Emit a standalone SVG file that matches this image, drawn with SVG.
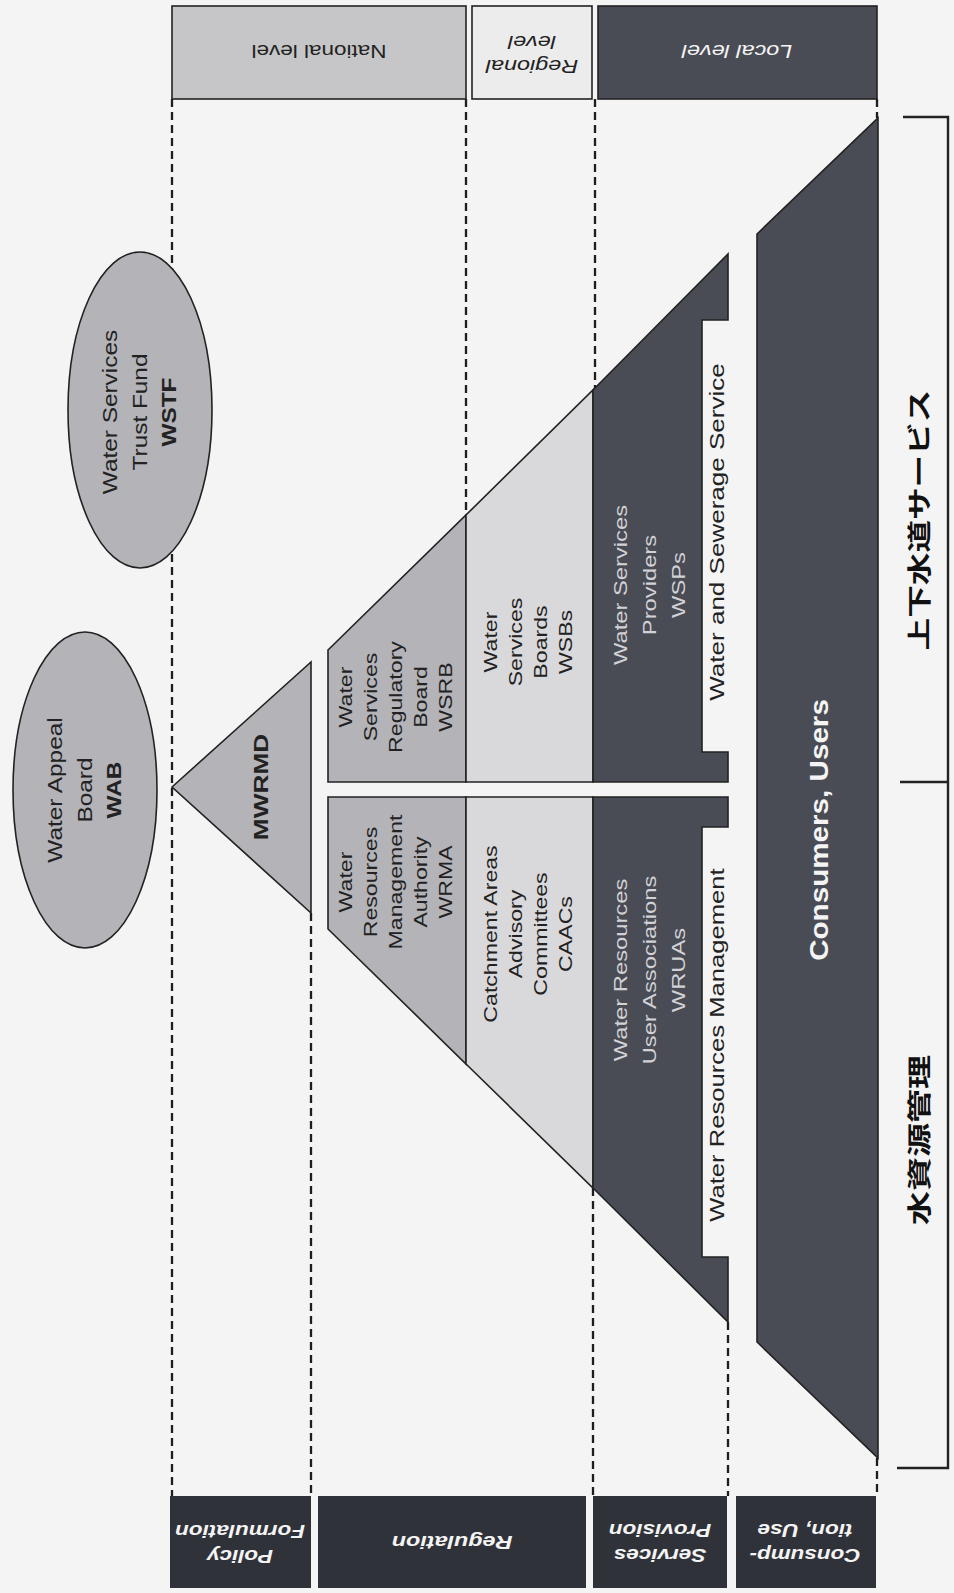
<svg xmlns="http://www.w3.org/2000/svg" width="954" height="1593" viewBox="0 0 954 1593">
<style>
.bg{fill:#f4f4f4}
.shp{stroke:#222;stroke-width:1.6;stroke-linejoin:miter}
.mid{fill:#b3b3b8}
.lite{fill:#d9d9db}
.dark{fill:#4a4c55}
.darker{fill:#303239}
.nat{fill:#c6c6c8}
.reg{fill:#ececec}
.dash{stroke:#1e1e1e;stroke-width:2.3;stroke-dasharray:8 5;fill:none}
.brk{stroke:#222;stroke-width:2.4;fill:none}
.t{font-family:"Liberation Sans",Arial,sans-serif;fill:#222;text-anchor:middle}
.b{font-weight:bold}
.i{font-style:italic}
.w{fill:#f4f4f4}
.lt{fill:#d2d2d6}
.jp{font-family:"Noto Sans CJK JP","Noto Sans CJK SC",sans-serif;font-weight:bold;fill:#111;text-anchor:middle}
</style>
<rect class="bg" x="0" y="0" width="954" height="1593"/>

<g id="connectors">
<line class="dash" x1="172" y1="99" x2="172" y2="1496"/>
<line class="dash" x1="466" y1="99" x2="466" y2="516"/>
<line class="dash" x1="595" y1="99" x2="595" y2="389"/>
<line class="dash" x1="877" y1="99" x2="877" y2="118"/>
<line class="dash" x1="311" y1="913" x2="311" y2="1496"/>
<line class="dash" x1="593" y1="1188" x2="593" y2="1496"/>
<line class="dash" x1="728" y1="1322" x2="728" y2="1496"/>
<line class="dash" x1="877" y1="1458" x2="877" y2="1496"/>
<path class="brk" d="M903,117 H948 V1468 H897 M900,782 H948"/>
</g>

<g id="hdr-national">
<rect class="shp nat" x="172" y="6" width="294" height="93"/>
<g transform="translate(319,45) rotate(180) scale(1.25,1)" class="t" font-size="18"><text x="0" y="0">National level</text></g>
</g>
<g id="hdr-regional">
<rect class="shp reg" x="472" y="6" width="120" height="93"/>
<g transform="translate(532,60) rotate(180) scale(1.3,1)" class="t i" font-size="18"><text x="0" y="0">Regional</text><text x="0" y="24">level</text></g>
</g>
<g id="hdr-local">
<rect class="shp dark" x="598" y="6" width="279" height="93"/>
<g transform="translate(737,45) rotate(180) scale(1.3,1)" class="t i w" font-size="18"><text x="0" y="0">Local level</text></g>
</g>

<g id="hdr-policy">
<rect class="darker" x="170" y="1496" width="141" height="92"/>
<g transform="translate(240,1550) rotate(180) scale(1.25,1)" class="t b i w" font-size="18"><text x="0" y="0">Policy</text><text x="0" y="25">Formulation</text></g>
</g>
<g id="hdr-regulation">
<rect class="darker" x="318" y="1496" width="268" height="92"/>
<g transform="translate(452,1536) rotate(180) scale(1.3,1)" class="t b i w" font-size="18"><text x="0" y="0">Regulation</text></g>
</g>
<g id="hdr-services">
<rect class="darker" x="593" y="1496" width="134" height="92"/>
<g transform="translate(660,1549) rotate(180) scale(1.25,1)" class="t b i w" font-size="18"><text x="0" y="0">Services</text><text x="0" y="25">Provision</text></g>
</g>
<g id="hdr-consumption">
<rect class="darker" x="736" y="1496" width="140" height="92"/>
<g transform="translate(805,1549) rotate(180) scale(1.25,1)" class="t b i w" font-size="18"><text x="0" y="0">Consump-</text><text x="0" y="25">tion, Use</text></g>
</g>

<g id="wstf">
<ellipse class="shp mid" cx="140" cy="410" rx="72" ry="158"/>
<g transform="translate(0,412) rotate(-90) scale(1.25,1)" class="t" font-size="19.5">
<text x="0" y="117.5">Water Services</text><text x="0" y="147">Trust Fund</text><text x="0" y="176.5" class="b">WSTF</text></g>
</g>
<g id="wab">
<ellipse class="shp mid" cx="85" cy="790" rx="72" ry="158"/>
<g transform="translate(0,790) rotate(-90) scale(1.25,1)" class="t" font-size="19.5">
<text x="0" y="62.5">Water Appeal</text><text x="0" y="92">Board</text><text x="0" y="121.5" class="b">WAB</text></g>
</g>

<g id="mwrmd">
<polygon class="shp mid" points="172,787 311,662 311,913"/>
<g transform="translate(0,787) rotate(-90) scale(1.25,1)" class="t b" font-size="21"><text x="0" y="268">MWRMD</text></g>
</g>

<g id="wsrb">
<polygon class="shp mid" points="328,650 466,515 466,782 328,782"/>
<g transform="translate(0,697) rotate(-90) scale(1.25,1)" class="t" font-size="18.5">
<text x="0" y="352">Water</text><text x="0" y="377">Services</text><text x="0" y="402">Regulatory</text><text x="0" y="427">Board</text><text x="0" y="452">WSRB</text></g>
</g>
<g id="wsbs">
<polygon class="shp lite" points="466,515 593,390 593,782 466,782"/>
<g transform="translate(0,642) rotate(-90) scale(1.25,1)" class="t" font-size="18.5">
<text x="0" y="497">Water</text><text x="0" y="522">Services</text><text x="0" y="547">Boards</text><text x="0" y="572">WSBs</text></g>
</g>
<g id="wrma">
<polygon class="shp mid" points="328,797 466,797 466,1064 328,929"/>
<g transform="translate(0,882) rotate(-90) scale(1.25,1)" class="t" font-size="18.5">
<text x="0" y="352">Water</text><text x="0" y="377">Resources</text><text x="0" y="402">Management</text><text x="0" y="427">Authority</text><text x="0" y="452">WRMA</text></g>
</g>
<g id="caacs">
<polygon class="shp lite" points="466,797 593,797 593,1188 466,1064"/>
<g transform="translate(0,934) rotate(-90) scale(1.25,1)" class="t" font-size="18.5">
<text x="0" y="497">Catchment Areas</text><text x="0" y="522">Advisory</text><text x="0" y="547">Committees</text><text x="0" y="572">CAACs</text></g>
</g>

<g id="wsps">
<polygon class="shp dark" points="593,390 728,254 728,320 702,320 702,752 728,752 728,782 593,782"/>
<g transform="translate(0,585) rotate(-90) scale(1.25,1)" class="t lt" font-size="19">
<text x="0" y="627">Water Services</text><text x="0" y="656">Providers</text><text x="0" y="685">WSPs</text></g>
</g>
<g id="wruas">
<polygon class="shp dark" points="593,797 728,797 728,827 702,827 702,1257 728,1257 728,1322 593,1188"/>
<g transform="translate(0,970) rotate(-90) scale(1.25,1)" class="t lt" font-size="19">
<text x="0" y="627">Water Resources</text><text x="0" y="656">User Associations</text><text x="0" y="685">WRUAs</text></g>
</g>

<g id="band-wss">
<g transform="translate(0,532) rotate(-90) scale(1.27,1)" class="t" font-size="20.5"><text x="0" y="724">Water and Sewerage Service</text></g>
</g>
<g id="band-wrm">
<g transform="translate(0,1045) rotate(-90) scale(1.25,1)" class="t" font-size="20.5"><text x="0" y="724">Water Resources Management</text></g>
</g>

<g id="consumers">
<polygon class="shp dark" points="757,234 878,118 878,1458 757,1342"/>
<g transform="translate(0,830) rotate(-90) scale(1.14,1)" class="t b w" font-size="26"><text x="0" y="828">Consumers, Users</text></g>
</g>

<g id="label-ws">
<g transform="translate(0,520) rotate(-90) scale(1.36,1)" class="jp" font-size="24"><text x="0" y="928">上下水道サービス</text></g>
</g>
<g id="label-wrm">
<g transform="translate(0,1140) rotate(-90) scale(1.42,1)" class="jp" font-size="24"><text x="0" y="928">水資源管理</text></g>
</g>
</svg>
